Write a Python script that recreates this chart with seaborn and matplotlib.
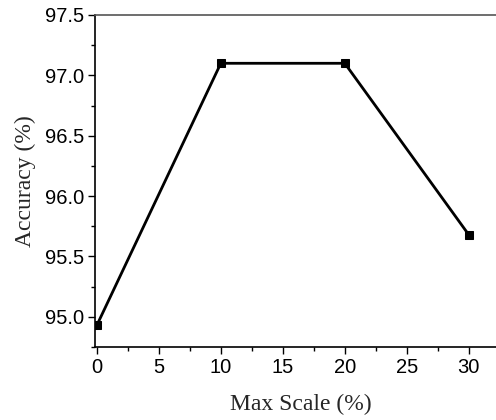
import matplotlib
matplotlib.use("Agg")
import matplotlib.pyplot as plt
import seaborn as sns
import pandas as pd
from matplotlib.ticker import MultipleLocator

max_scale = [0, 10, 20, 30]
accuracy = [94.93, 97.10, 97.10, 95.68]

df = pd.DataFrame({"Max Scale": max_scale, "Accuracy": accuracy})

sns.set_style("ticks")
plt.rcParams['font.family'] = ['Liberation Sans', 'DejaVu Sans']

fig = plt.figure(figsize=(4.96, 4.20), dpi=100)
ax = fig.add_axes([95/496, 1 - 347/420, 1 - 95/496 + 0.02, (347 - 15) / 420])

sns.lineplot(data=df, x="Max Scale", y="Accuracy", ax=ax, color="black",
             linewidth=2.0, marker="s", markersize=6, markeredgecolor="black",
             markerfacecolor="black")

ax.set_xlim(-0.15, 33.0)
ax.set_ylim(94.75, 97.5)
ax.xaxis.set_major_locator(MultipleLocator(5))
ax.xaxis.set_minor_locator(MultipleLocator(2.5))
ax.yaxis.set_major_locator(MultipleLocator(0.5))
ax.yaxis.set_minor_locator(MultipleLocator(0.25))
ax.yaxis.set_major_formatter(matplotlib.ticker.FormatStrFormatter('%.1f'))

ax.tick_params(which='major', direction='out', length=5, width=1, labelsize=14.5, colors='black', pad=3)
ax.tick_params(which='minor', direction='out', length=3, width=1, colors='black')
ax.tick_params(top=False, right=False, which='both')

for s in ['left', 'bottom', 'top']:
    ax.spines[s].set_visible(True)
    ax.spines[s].set_linewidth(1.2)
    ax.spines[s].set_color('black')
ax.spines['top'].set_color('#555555')
ax.spines['right'].set_visible(False)

ax.set_xlabel("Max Scale (%)", fontsize=17, family=['Liberation Serif'], labelpad=12)
ax.set_ylabel("Accuracy (%)", fontsize=17, family=['Liberation Serif'], labelpad=6)

fig.savefig("out.png", dpi=100)
